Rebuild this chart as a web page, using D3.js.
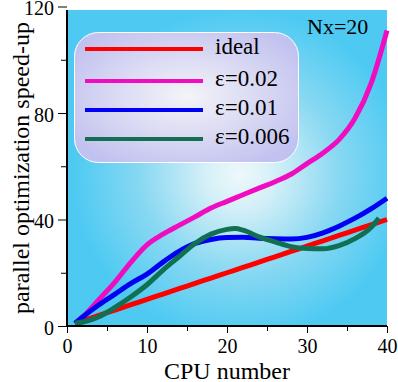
<!DOCTYPE html>
<html>
<head>
<meta charset="utf-8">
<script src="https://cdn.jsdelivr.net/npm/d3@7"></script>
<style>
  body { margin: 0; background: #fff; }
  text { font-family: "Liberation Serif", "Times New Roman", serif; fill: #000; }
</style>
</head>
<body>
<div id="chart"></div>
<script>
// values
var cpu       = [1, 2, 4, 6, 8, 10, 12, 14, 16, 18, 20, 22, 24, 26, 28, 30, 32, 34, 36, 38, 40];
var ideal     = [1, 2, 4, 6, 8, 10, 12, 14, 16, 18, 20, 22, 24, 26, 28, 30, 32, 34, 36, 38, 40];
var eps002    = [1, 3.5, 10, 16.5, 24, 30.5, 34.5, 37.8, 41, 44.3, 46.8, 49.3, 51.8, 54.2, 57, 61, 65, 70, 78, 91, 111];
var eps001    = [1, 3.5, 8, 12, 16, 19.5, 24, 28, 31, 32.5, 33.2, 33.3, 33, 32.8, 32.7, 33.3, 35, 37.5, 40.5, 44, 48];
var cpuG      = [1, 2, 4, 6, 8, 10, 12, 14, 16, 18, 20, 21, 22, 24, 26, 28, 30, 32, 34, 36, 38, 39];
var eps0006   = [1, 1.5, 3.5, 7, 11, 15.5, 21, 26, 31, 34.5, 36.3, 36.6, 36, 33.5, 31.6, 29.8, 29.1, 29, 30.2, 32.8, 37, 40.5];

var names  = ["ideal", "ε=0.02", "ε=0.01", "ε=0.006"];
var colors = ["#ff0000", "#f00cc0", "#0000f4", "#117052"];
var xTicks = [0, 10, 20, 30, 40];
var yTicks = [0, 40, 80, 120];

var series = [
  {name: names[0], xs: cpu,  ys: ideal},
  {name: names[1], xs: cpu,  ys: eps002},
  {name: names[2], xs: cpu,  ys: eps001},
  {name: names[3], xs: cpuG, ys: eps0006}
];

var width = 398, height = 382;
var pLeft = 67, pRight = 387, pTop = 10, pBottom = 326;

var x = d3.scaleLinear().domain([0, 40]).range([pLeft, pRight]);
var y = d3.scaleLinear().domain([0, 120]).range([pBottom, 6.5]);

var svg = d3.select("#chart").append("svg")
    .attr("width", width)
    .attr("height", height);

var defs = svg.append("defs");

//plot background: cyan with a pale middle
var bg = defs.append("radialGradient")
    .attr("id", "bg")
    .attr("cx", "0.54").attr("cy", "0.52").attr("r", "0.52");
bg.append("stop").attr("offset", "0%").attr("stop-color", "#eef8fa");
bg.append("stop").attr("offset", "20%").attr("stop-color", "#d6f0f8");
bg.append("stop").attr("offset", "60%").attr("stop-color", "#88d8f2");
bg.append("stop").attr("offset", "100%").attr("stop-color", "#4ecaf2");

var lg = defs.append("radialGradient")
    .attr("id", "lg")
    .attr("cx", "0.5").attr("cy", "0.49").attr("r", "0.6");
lg.append("stop").attr("offset", "0%").attr("stop-color", "#f4f4f8");
lg.append("stop").attr("offset", "100%").attr("stop-color", "#c2c2f0");

svg.append("rect")
    .attr("x", pLeft).attr("y", pTop)
    .attr("width", pRight - pLeft).attr("height", pBottom - pTop)
    .attr("fill", "url(#bg)");

//legend box
svg.append("rect")
    .attr("x", 74.5).attr("y", 32.5)
    .attr("width", 224).attr("height", 130)
    .attr("rx", 24).attr("ry", 24)
    .attr("fill", "url(#lg)")
    .attr("stroke", "#fff")
    .attr("stroke-width", 1);

//curves
var line = d3.line()
    .x(function(d) { return x(d[0]); })
    .y(function(d) { return y(d[1]); })
    .curve(d3.curveMonotoneX);

svg.append("g").selectAll("path")
  .data(series)
  .enter().append("path")
    .attr("d", function(s) { return line(d3.zip(s.xs, s.ys)); })
    .attr("fill", "none")
    .attr("stroke", function(s, i) { return colors[i]; })
    .attr("stroke-width", 5);

//axes
var xAxis = svg.append("g")
    .attr("transform", "translate(0," + pBottom + ")")
    .call(d3.axisBottom(x).tickValues(d3.range(0, 41, 5)).tickSize(7)
      .tickFormat(function(d) { return xTicks.indexOf(d) >= 0 ? d : ""; }));
xAxis.select(".domain").attr("stroke-width", 2).attr("d", "M" + pLeft + ",0H" + pRight);
xAxis.selectAll(".tick line").attr("y2", function(d) { return d % 10 ? 5 : 7; });
xAxis.selectAll(".tick text")
    .attr("y", 27).attr("dy", 0)
    .style("font-size", "20px")
    .style("font-family", "Liberation Serif");

var yAxis = svg.append("g")
    .attr("transform", "translate(" + pLeft + ",0)")
    .call(d3.axisLeft(y).tickValues(d3.range(0, 121, 20)).tickSize(9).tickPadding(4)
      .tickFormat(function(d) { return yTicks.indexOf(d) >= 0 ? d : ""; }));
yAxis.select(".domain").attr("stroke-width", 2).attr("d", "M0," + pTop + "V" + pBottom);
yAxis.selectAll(".tick line").attr("x2", function(d) { return d % 40 ? -6 : -9; });
yAxis.selectAll(".tick text")
    .attr("dy", "0.4em")
    .style("font-size", "20px")
    .style("font-family", "Liberation Serif");

//legend entries
var leg = svg.append("g").selectAll("g")
  .data(series)
  .enter().append("g")
    .attr("transform", function(s, i) { return "translate(0," + [49, 81, 110, 139][i] + ")"; });
leg.append("line")
    .attr("x1", 85).attr("x2", 203)
    .attr("stroke", function(s, i) { return colors[i]; })
    .attr("stroke-width", 4);
leg.append("text")
    .attr("x", 215).attr("y", 5)
    .style("font-size", "23px")
    .text(function(s) { return s.name; });

//labels
svg.append("text")
    .attr("x", 307).attr("y", 34)
    .style("font-size", "22px")
    .text("Nx=20");

svg.append("text")
    .attr("x", (pLeft + pRight) / 2).attr("y", 379)
    .attr("text-anchor", "middle")
    .style("font-size", "24px")
    .text("CPU number");

svg.append("text")
    .attr("transform", "translate(29," + 168 + ") rotate(-90)")
    .attr("text-anchor", "middle")
    .style("font-size", "24px")
    .text("parallel optimization speed-up");
</script>
</body>
</html>
